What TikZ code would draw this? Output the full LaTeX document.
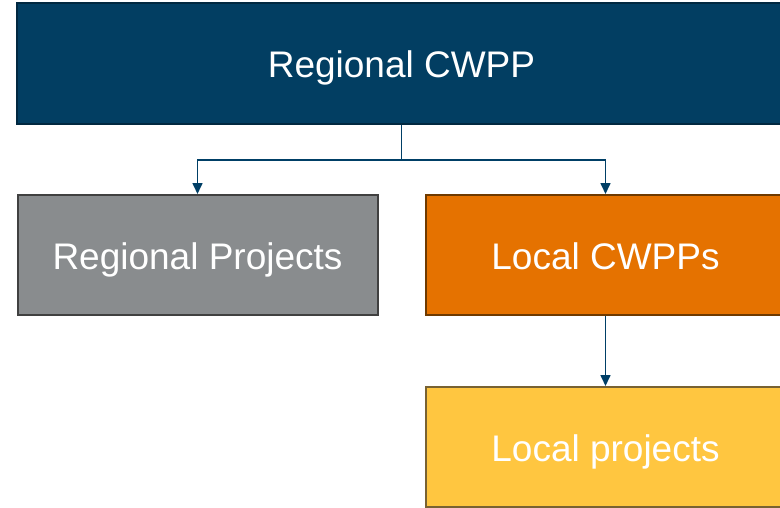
\documentclass[tikz,border=0pt]{standalone}
\usepackage{fontspec}
\setmainfont{Liberation Sans}
\usepackage{tikz}
\usetikzlibrary{positioning,arrows.meta}
\definecolor{cwppblue}{RGB}{2,62,98}
\definecolor{cwppblueedge}{RGB}{1,40,64}
\definecolor{projgray}{RGB}{137,140,142}
\definecolor{projgrayedge}{RGB}{64,64,64}
\definecolor{localorange}{RGB}{229,114,0}
\definecolor{localorangeedge}{RGB}{110,58,0}
\definecolor{localyellow}{RGB}{255,198,64}
\definecolor{localyellowedge}{RGB}{120,98,50}
\definecolor{linkblue}{RGB}{0,63,102}

\begin{document}
\begin{tikzpicture}[
    x=1pt, y=1pt,
    box/.style={
        line width=2pt,
        minimum width=360pt,
        minimum height=120pt,
        inner sep=0pt,
        text height=28pt,
        text depth=0pt,
        align=center,
        text=white,
        font=\fontsize{37}{44}\selectfont
    },
    link/.style={
        draw=linkblue,
        line width=1.6pt,
        -{Triangle[length=11pt,width=10pt]}
    }
]
\useasboundingbox (0,0) rectangle (780,-507);
\clip (0,0) rectangle (780,-507);

\node[box, fill=cwppblue, draw=cwppblueedge, minimum width=769pt, minimum height=121pt]
    (region) at (401.5,-63.5) {Regional CWPP};

\node[box, fill=projgray, draw=projgrayedge] (regproj) at (197.5,-255) {Regional Projects};

\node[box, fill=localorange, draw=localorangeedge, right=46pt of regproj] (localcwpp) {Local CWPPs};

\node[box, fill=localyellow, draw=localyellowedge, below=70pt of localcwpp] (localproj) {Local projects};

\coordinate (split) at ([yshift=-35pt]region.south);

\draw[draw=linkblue, line width=1.6pt] (region.south) -- (split);
\draw[link] (split) -| (regproj.north);
\draw[link] (split) -| (localcwpp.north);
\draw[link] (localcwpp.south) -- (localproj.north);

\end{tikzpicture}
\end{document}
